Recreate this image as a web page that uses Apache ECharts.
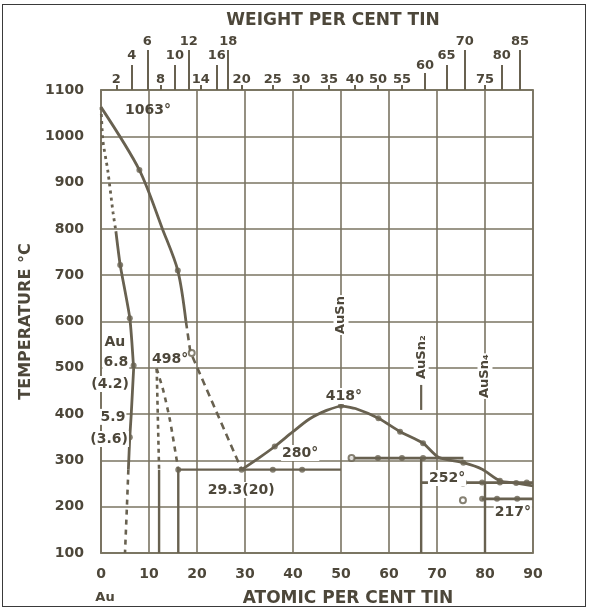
<!DOCTYPE html>
<html><head><meta charset="utf-8">
<script src="https://cdn.jsdelivr.net/npm/echarts@6/dist/echarts.min.js"></script>
<style>
html,body{margin:0;padding:0;background:#fff;}
#frame{position:absolute;left:2px;top:4px;width:582px;height:601px;border:1.5px solid #3a3a3a;}
#chart{position:absolute;left:0;top:0;width:589px;height:610px;}
</style></head>
<body><div id="frame"></div><div id="chart"></div>
<script>
// ---- axis ticks ----
const atomicTicks = [0,10,20,30,40,50,60,70,80,90];
const tempTicks = [100,200,300,400,500,600,700,800,900,1000,1100];
const wtShortLabels = ['2','8','14','20','25','30','35','40','50','55','75'];
const wtShortPos    = [3.2,12.4,20.8,29.3,35.8,41.7,47.5,52.9,57.7,62.7,80.0];
const wtMidLabels   = ['4','10','16','65','80'];
const wtMidPos      = [6.4,15.4,24.1,72.0,83.5];
const wtLowLabels   = ['60'];
const wtLowPos      = [67.5];
const wtTallLabels  = ['6','12','18','70','85'];
const wtTallPos     = [9.65,18.3,26.5,75.8,87.3];

// ---- phase boundaries [at% Sn, °C] ----
const liquidusAu       = [[0,1063],[8,927],[12.8,800],[16,710],[17.7,600]];
const liquidusAuDash   = [[17.7,600],[18.6,535],[29.3,280]];
const solidusAuDot     = [[0,1063],[0.4,990],[1.4,927],[2.5,836],[3.1,795]];
const solidusAu        = [[3.1,795],[4.0,722],[6.0,607],[6.8,498]];
const solvusAu         = [[6.8,498],[6.3,400],[6.0,350],[5.7,280]];
const solvusAuDash     = [[5.7,280],[5.4,200],[5.0,100]];
const zetaLeftDash     = [[11.6,498],[12.1,280]];
const zetaLeft         = [[12.1,280],[12.1,100]];
const zetaRightDash    = [[11.6,498],[13,450],[14.4,385],[16.1,280]];
const zetaRight        = [[16.1,280],[16.1,100]];
const eutectic280      = [[16.1,280],[50,280]];
const liquidusMid      = [[29.3,280],[33,306],[36.2,330],[40,362],[43.5,390],[47,408],[50,418]];
const liquidusSn       = [[50,418],[53,412],[57.8,391],[62.3,362],[67.1,337],[70.3,307],[75.5,295],[79.4,281],[83.1,256],[86.5,251],[90,245]];
const peritectic305    = [[51.8,305],[75.5,305]];
const auSn2Line        = [[66.7,305],[66.7,100]];
const auSn2Marker      = [[66.7,409],[66.7,463]];
const peritectic252    = [[66.7,252],[90,252]];
const auSn4Line        = [[80,252],[80,100]];
const eutectic217      = [[79.4,217],[90,217]];

const filledPoints = [[8,927],[16,710],[4.0,722],[6.0,607],[6.8,505],[6.0,350],
  [16.1,280],[29.3,280],[35.8,280],[41.9,280],[36.2,330],
  [50,418],[57.8,391],[62.3,362],[67.1,337],[75.5,295],[83.1,256],[86.5,251],
  [57.7,305],[62.7,305],[67.1,305],
  [79.4,252],[83.1,252],[88.7,252],
  [79.4,217],[82.5,217],[86.7,217]];
const openPoints = [[18.9,532],[52.2,305],[75.4,252],[75.4,214]];

// ---- annotations ----
const noteTexts = ['1063°','Au','6.8','(4.2)','5.9','(3.6)','498°','29.3(20)','280°','418°','252°','217°','AuSn','AuSn₂','AuSn₄'];
const notePos   = [[9.8,1057],[2.9,556],[3.1,512],[1.9,465],[2.5,394],[1.7,346],[14.4,519],[29.2,236],[41.5,316],[50.6,439],[72.1,262],[85.8,187],[50,614],[66.7,523],[80,482]];
const noteRotated = [false,false,false,false,false,false,false,false,false,false,false,false,true,true,true];
const noteOpaque  = [false,true,true,true,true,true,false,true,true,true,true,true,true,true,true];

const LC = '#686150';
const GC = '#7a7462';
const TC = '#4d473a';
const FF = 'DejaVu Sans';

function seg(data, dash, width, smooth) {
  return {type:'line', data:data, symbol:'none', smooth:smooth||false, silent:true, z:3,
    lineStyle:{color:LC, width:width||2.6, type:dash||'solid'}};
}
function topAxis(pos, labels, margin, tickLen, showLine) {
  return {type:'value', position:'top', min:0, max:90, interval:10,
    axisLine:{show:showLine, lineStyle:{color:GC, width:1.6}},
    splitLine:{show:false},
    axisTick:{show:true, customValues:pos, length:tickLen, inside:false, lineStyle:{color:LC, width:2}},
    axisLabel:{show:true, customValues:pos, margin:margin, fontFamily:FF, fontWeight:'bold', fontSize:13, color:TC,
      formatter:function(v){ for (let i=0;i<pos.length;i++){ if (Math.abs(pos[i]-v)<1e-6) return labels[i]; } return ''; }}
  };
}

const chart = echarts.init(document.getElementById('chart'), null, {renderer:'canvas'});
const option = {
  animation:false,
  backgroundColor:'transparent',
  grid:{left:101, right:56, top:90, bottom:57, show:true, borderColor:GC, borderWidth:1.6, backgroundColor:'transparent'},
  xAxis:[
    {type:'value', position:'bottom', min:0, max:90, interval:10,
      axisLine:{show:true, lineStyle:{color:GC, width:1.6}},
      axisTick:{show:false},
      splitLine:{show:true, lineStyle:{color:GC, width:1.6}},
      axisLabel:{margin:14, fontFamily:FF, fontWeight:'bold', fontSize:14, color:TC,
        formatter:function(v){ return atomicTicks.indexOf(v) >= 0 ? String(v) : ''; }}},
    topAxis(wtShortPos, wtShortLabels, 4, 5, true),
    topAxis(wtMidPos, wtMidLabels, 28, 25, false),
    topAxis(wtLowPos, wtLowLabels, 18, 17, false),
    topAxis(wtTallPos, wtTallLabels, 42, 40, false)
  ],
  yAxis:[{type:'value', min:100, max:1100, interval:100,
    name:'TEMPERATURE °C', nameLocation:'middle', nameGap:64, nameRotate:90,
    nameTextStyle:{fontFamily:FF, fontWeight:'bold', fontSize:16, color:TC},
    axisLine:{show:true, lineStyle:{color:GC, width:1.6}},
    axisTick:{show:false},
    splitLine:{show:true, lineStyle:{color:GC, width:1.6}},
    axisLabel:{margin:17, fontFamily:FF, fontWeight:'bold', fontSize:14, color:TC,
      formatter:function(v){ return tempTicks.indexOf(v) >= 0 ? String(v) : ''; }}}],
  graphic:[
    {type:'text', x:333, y:21, style:{text:'WEIGHT PER CENT TIN', font:'bold 17px "DejaVu Sans"', fill:TC, textAlign:'center', textVerticalAlign:'middle'}},
    {type:'text', x:348, y:599, style:{text:'ATOMIC PER CENT TIN', font:'bold 17px "DejaVu Sans"', fill:TC, textAlign:'center', textVerticalAlign:'middle'}},
    {type:'text', x:105, y:598, style:{text:'Au', font:'bold 13px "DejaVu Sans"', fill:TC, textAlign:'center', textVerticalAlign:'middle'}}
  ],
  series:[
    seg(liquidusAu,'solid',2.8,0.3),
    seg(liquidusAuDash,[7,5],2.6),
    seg(solidusAuDot,[3,4],2.8,0.2),
    seg(solidusAu,'solid',2.8,0.2),
    seg(solvusAu,'solid',2.8,0.2),
    seg(solvusAuDash,[5,5],2.6),
    seg(zetaLeftDash,[4,4],2.6),
    seg(zetaLeft,'solid',2.4),
    seg(zetaRightDash,[5,5],2.6,0.2),
    seg(zetaRight,'solid',2.4),
    seg(eutectic280,'solid',2.4),
    seg(liquidusMid,'solid',2.8,0.3),
    seg(liquidusSn,'solid',2.8,0.25),
    seg(peritectic305,'solid',2.6),
    seg(auSn2Line,'solid',2.4),
    seg(auSn2Marker,'solid',2.2),
    seg(peritectic252,'solid',2.6),
    seg(auSn4Line,'solid',2.4),
    seg(eutectic217,'solid',2.6),
    {type:'scatter', data:filledPoints, symbol:'circle', symbolSize:6, silent:true, z:4, itemStyle:{color:LC}},
    {type:'scatter', data:openPoints, symbol:'emptyCircle', symbolSize:6, silent:true, z:4, itemStyle:{color:LC, borderColor:LC, borderWidth:1.6}},
    {type:'custom', coordinateSystem:'cartesian2d', clip:false, silent:true, z:10,
      data: notePos.map(function(p){ return [p[0], p[1]]; }),
      renderItem:function(params, api){
        const i = params.dataIndex;
        const pt = api.coord([api.value(0), api.value(1)]);
        const rot = noteRotated[i];
        return {type:'text', x:pt[0], y:pt[1], rotation: rot ? Math.PI/2 : 0,
          style:{text:noteTexts[i], textAlign:'center', textVerticalAlign:'middle',
            font:'bold ' + (rot ? 13 : 14) + 'px "DejaVu Sans"', fill:TC,
            backgroundColor: noteOpaque[i] ? '#ffffff' : null, padding:[1,1]}};
      }}
  ]
};
chart.setOption(option);
</script></body></html>
